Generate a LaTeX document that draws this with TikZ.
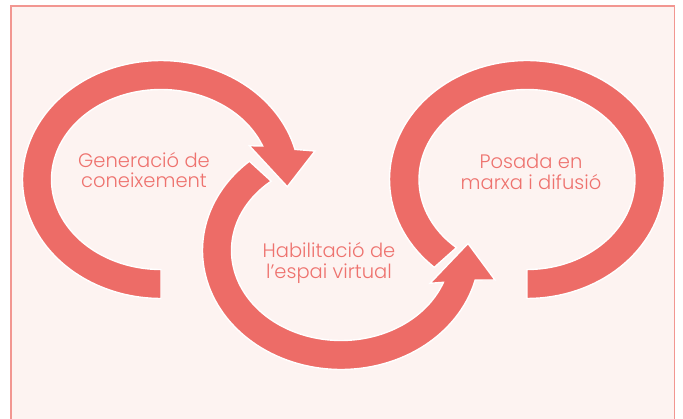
\documentclass[tikz,border=0pt]{standalone}
\usepackage{fontspec}
\setmainfont{Poppins Light}
\definecolor{arrowc}{RGB}{237,108,103}
\definecolor{txtc}{RGB}{238,114,110}
\definecolor{bgc}{RGB}{253,243,241}
\definecolor{framec}{RGB}{242,150,145}
\begin{document}
\begin{tikzpicture}[x=1pt,y=-1pt,
  arrowshape/.style={fill=arrowc, draw=white, line width=1.4pt, line join=miter},
  txt/.style={text=txtc, font=\fontsize{19.5}{20.5}\selectfont, align=center, inner sep=0pt}]
\useasboundingbox (0,0) rectangle (683,418);
\fill[white] (0,0) rectangle (683,418);
\fill[bgc] (10,5) rectangle (675,420);
\draw[framec, line width=1.6pt] (11,430) -- (11,5.7) -- (674.5,5.7) -- (674.5,430);
% arrow 1
\path[arrowshape] plot[domain=90:345.34, samples=120, variable=\t] ({161+138.5*cos(\t)},{179.5+119*sin(\t)})
  -- (315,151) -- (287.3,186.7) -- (249.3,145.7)
  -- plot[domain=338.15:90, samples=120, variable=\t] ({161+109.5*cos(\t)},{179.5+90*sin(\t)}) -- cycle;
% arrow 2
\path[arrowshape] plot[domain=228.6:14.35, samples=120, variable=\t] ({341+138.5*cos(\t)},{250.5+119*sin(\t)})
  -- (495,280) -- (468,243.5) -- (430,283.3)
  -- plot[domain=20.7:230.4, samples=120, variable=\t] ({341+109.5*cos(\t)},{250.5+90*sin(\t)}) -- cycle;
% arrow 3
\path[arrowshape] plot[domain=132.4:450, samples=120, variable=\t] ({527+137.5*cos(\t)},{179.5+119*sin(\t)})
  -- plot[domain=450:130.8, samples=120, variable=\t] ({527+108*cos(\t)},{179.5+90*sin(\t)}) -- cycle;
\node[txt] (t1) at (144,170) {Generació de\\coneixement};
\node[txt] (t2) at (329,263) {Habilitació de\\l’espai virtual};
\node[txt] (t3) at (531,172) {Posada en\\marxa i difusió};
\end{tikzpicture}
\end{document}
